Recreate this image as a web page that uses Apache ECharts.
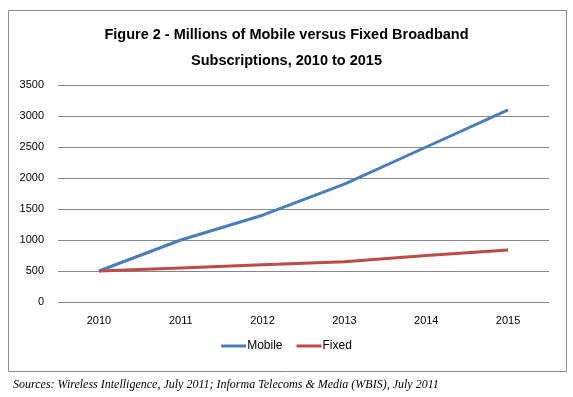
<!DOCTYPE html>
<html>
<head>
<meta charset="utf-8">
<script src="https://cdn.jsdelivr.net/npm/echarts@6/dist/echarts.min.js"></script>
<style>
  html, body { margin: 0; padding: 0; background: #fff; }
  #chart { width: 573px; height: 397px; }
</style>
</head>
<body>
<div id="chart"></div>
<script>
// data
const years = ['2010', '2011', '2012', '2013', '2014', '2015'];
const mobile = [500, 1000, 1400, 1900, 2500, 3100];
const fixed = [500, 550, 600, 650, 750, 840];
const seriesNames = ['Mobile', 'Fixed'];

const chart = echarts.init(document.getElementById('chart'));

const option = {
  animation: false,
  backgroundColor: '#fff',
  title: [
    {
      text: 'Figure 2 - Millions of Mobile versus Fixed Broadband\nSubscriptions, 2010 to 2015',
      left: 'center',
      top: 17,
      textStyle: {
        fontFamily: 'Liberation Sans',
        fontWeight: 'bold',
        fontSize: 14.5,
        lineHeight: 26,
        color: '#000'
      }
    },
    {
      text: 'Sources: Wireless Intelligence, July 2011; Informa Telecoms & Media (WBIS), July 2011',
      left: 8,
      top: 374,
      textStyle: {
        fontFamily: 'Liberation Serif',
        fontStyle: 'italic',
        fontWeight: 'normal',
        fontSize: 12,
        color: '#000'
      }
    }
  ],
  graphic: [
    {
      type: 'rect',
      shape: { x: 8.5, y: 10.5, width: 558, height: 361 },
      style: { fill: 'none', stroke: '#8c8c8c', lineWidth: 1 },
      silent: true
    }
  ],
  legend: {
    data: seriesNames,
    bottom: 40,
    left: 'center',
    itemWidth: 25,
    itemHeight: 3,
    itemGap: 14,
    icon: 'rect',
    textStyle: { fontFamily: 'Liberation Sans', fontSize: 12, color: '#000', padding: [0, 0, 0, -4] }
  },
  grid: {
    left: 58,
    right: 24,
    top: 85,
    bottom: 95
  },
  xAxis: {
    type: 'category',
    data: years,
    boundaryGap: true,
    axisLine: { show: false },
    axisTick: { show: false },
    axisLabel: { fontFamily: 'Liberation Sans', fontSize: 11, color: '#000', margin: 13 }
  },
  yAxis: {
    type: 'value',
    min: 0,
    max: 3500,
    interval: 500,
    axisLine: { show: false },
    axisTick: { show: false },
    axisLabel: {
      fontFamily: 'Liberation Sans',
      fontSize: 11,
      color: '#000',
      margin: 14,
      formatter: (v) => String(v)
    },
    splitLine: { lineStyle: { color: '#878787', width: 1 } }
  },
  series: [
    {
      name: seriesNames[0],
      type: 'line',
      data: mobile,
      symbol: 'none',
      lineStyle: { color: '#4a7ebb', width: 3 },
      itemStyle: { color: '#4a7ebb' }
    },
    {
      name: seriesNames[1],
      type: 'line',
      data: fixed,
      symbol: 'none',
      lineStyle: { color: '#be4b48', width: 3 },
      itemStyle: { color: '#be4b48' }
    }
  ]
};

chart.setOption(option);
</script>
</body>
</html>
